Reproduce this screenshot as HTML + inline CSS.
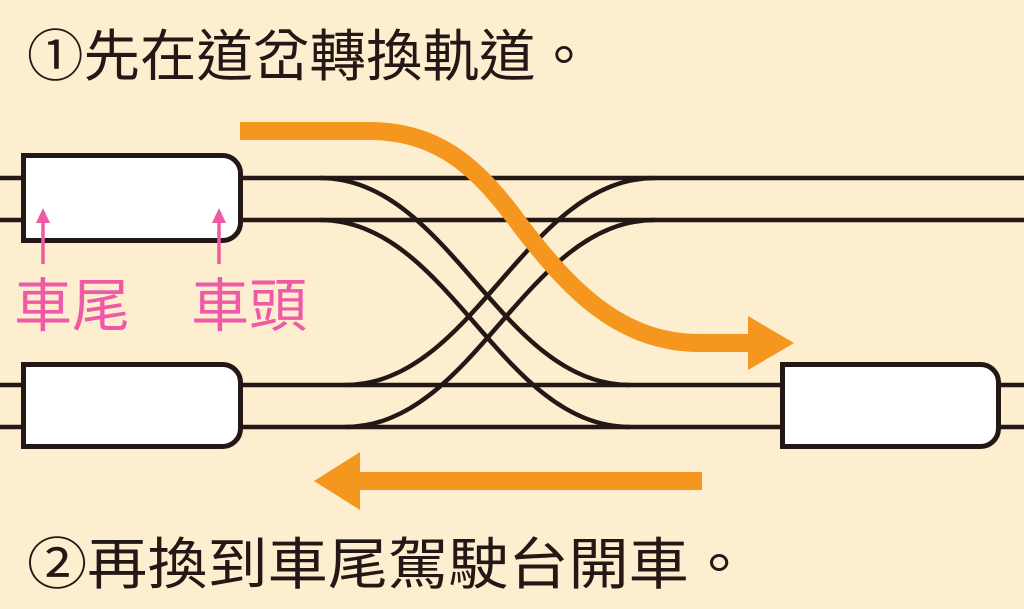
<!DOCTYPE html>
<html><head><meta charset="utf-8"><style>
html,body{margin:0;padding:0;background:#fdeecf;}
svg{display:block}
text{font-family:"Liberation Sans","Noto Sans CJK TC",sans-serif;}
</style></head><body>
<svg width="1024" height="609" viewBox="0 0 1024 609" xmlns="http://www.w3.org/2000/svg">
<rect width="1024" height="609" fill="#fdeecf"/>
<text x="27" y="76" font-size="56" fill="#231815" textLength="565" lengthAdjust="spacingAndGlyphs">①先在道岔轉換軌道。</text>
<text x="27" y="584" font-size="56" fill="#231815" textLength="722" lengthAdjust="spacingAndGlyphs">②再換到車尾駕駛台開車。</text>
<g stroke="#231815" stroke-width="4.5" fill="none">
<line x1="0" y1="178" x2="1024" y2="178"/>
<line x1="0" y1="220" x2="1024" y2="220"/>
<line x1="0" y1="385" x2="1024" y2="385"/>
<line x1="0" y1="427" x2="1024" y2="427"/>
<path d="M320,178 C450,178 500,385 630,385"/>
<path d="M320,220 C450,220 500,427 630,427"/>
<path d="M345,385 C475,385 525,178 655,178"/>
<path d="M345,427 C475,427 525,220 655,220"/>
</g>
<g fill="#fff" stroke="#231815" stroke-width="5">
<path d="M23.5,155.5 H222 A18,18 0 0 1 240.5,174 V222 A18,18 0 0 1 222,240.5 H23.5 Z"/>
<path d="M23.5,364.5 H222 A18,18 0 0 1 240.5,383 V429 A18,18 0 0 1 222,446.5 H23.5 Z"/>
<path d="M782.5,364.5 H980 A18,18 0 0 1 998.5,383 V429 A18,18 0 0 1 980,446.5 H782.5 Z"/>
</g>
<path d="M240,131 H370 C440,131 480,170 520,225 C570,290 620,343 700,343 H752" stroke="#f5961e" stroke-width="18" fill="none"/>
<polygon points="748,316 794,343 748,370" fill="#f5961e"/>
<line x1="702" y1="481" x2="355" y2="481" stroke="#f5961e" stroke-width="18"/>
<polygon points="360,452 314,481 360,510" fill="#f5961e"/>
<g stroke="#ee5aa6" stroke-width="3.5">
<line x1="43" y1="222" x2="43" y2="264"/>
<line x1="219" y1="222" x2="219" y2="264"/>
</g>
<polygon points="36,223 43,208 50,223" fill="#ee5aa6"/>
<polygon points="212,223 219,208 226,223" fill="#ee5aa6"/>
<text x="14" y="326" font-size="58" fill="#ee5aa6">車尾</text>
<text x="191" y="326" font-size="58" fill="#ee5aa6">車頭</text>
</svg>
</body></html>
